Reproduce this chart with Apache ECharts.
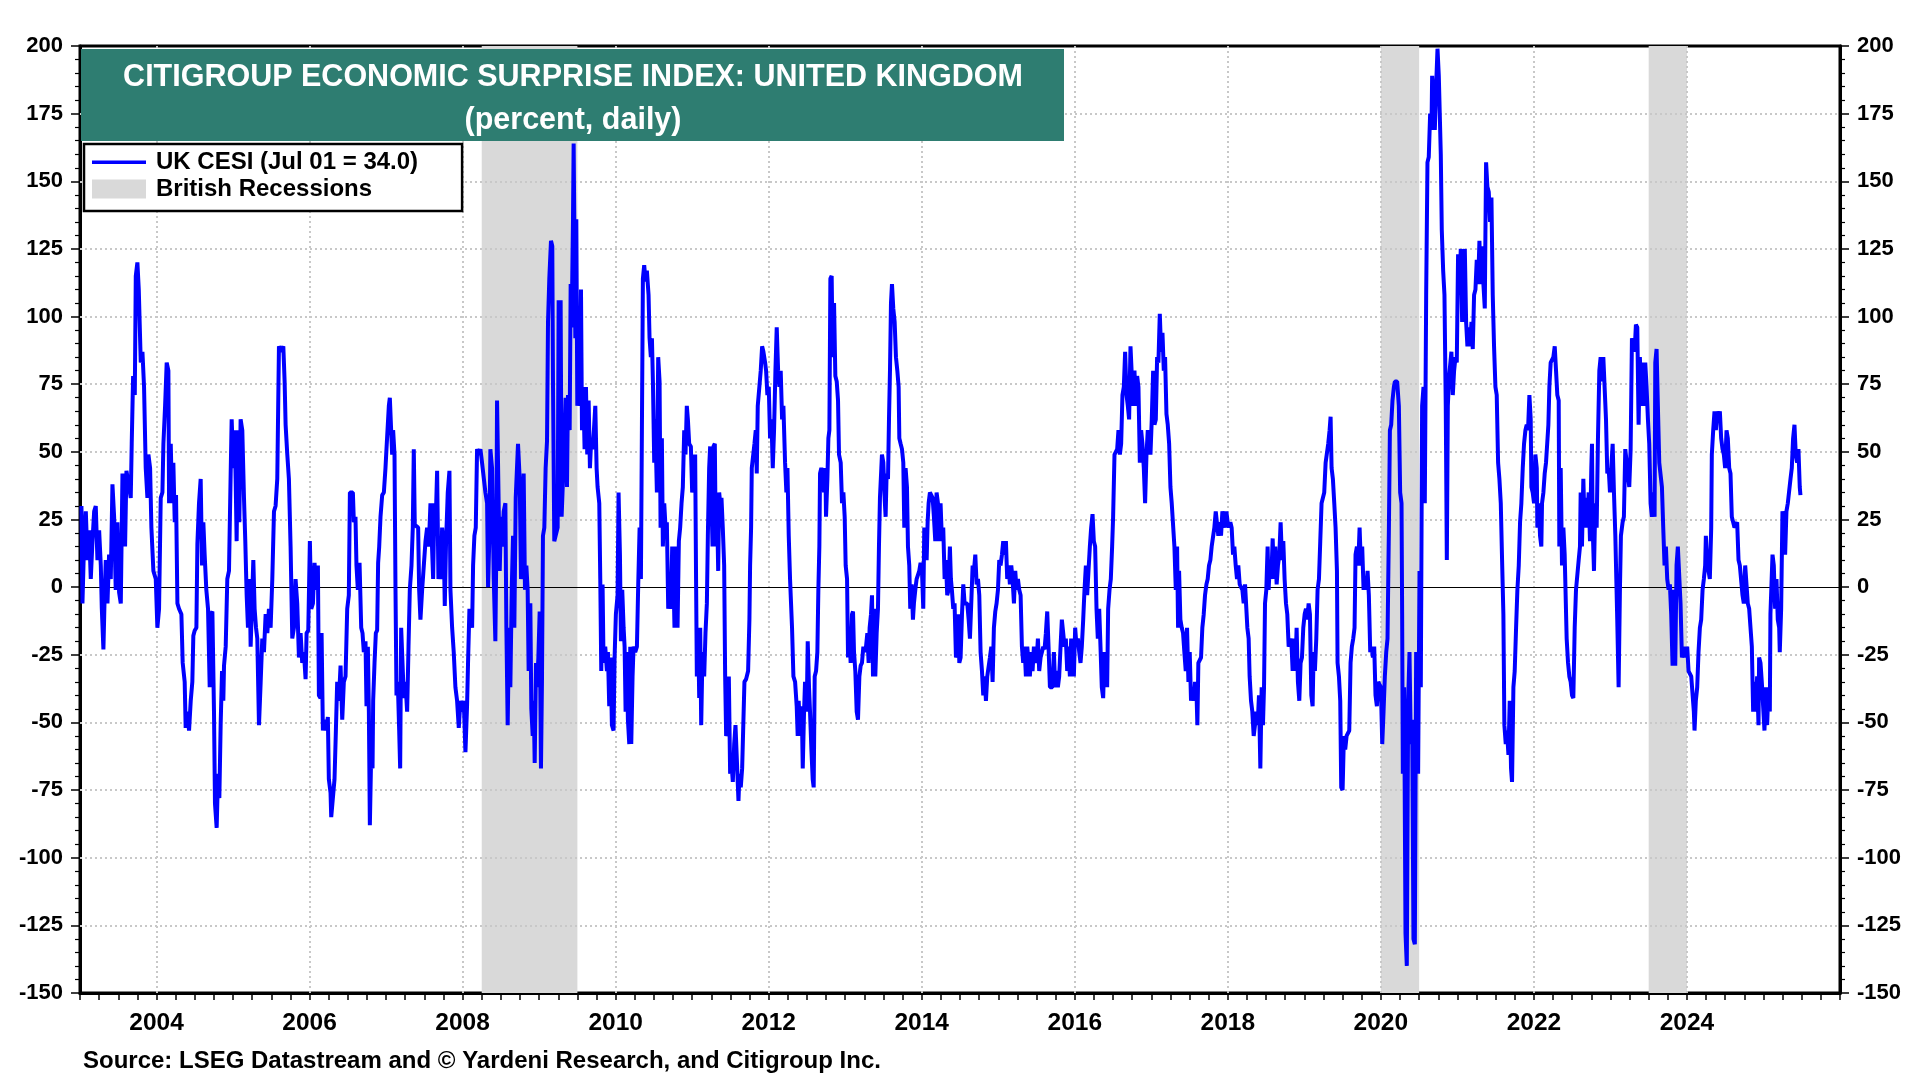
<!DOCTYPE html>
<html><head><meta charset="utf-8">
<script src="https://cdn.jsdelivr.net/npm/echarts@6/dist/echarts.min.js"></script>
<style>html,body{margin:0;padding:0;background:#fff}#chart{width:1920px;height:1080px}</style>
</head><body><div id="chart"></div>
<script>
const titleLine1 = 'CITIGROUP ECONOMIC SURPRISE INDEX: UNITED KINGDOM';
const titleLine2 = '(percent, daily)';
const seriesName = 'UK CESI (Jul 01 = 34.0)';
const recessionName = 'British Recessions';
const sourceText = 'Source: LSEG Datastream and \u00A9 Yardeni Research, and Citigroup Inc.';
const recessions = [[2008.25, 2009.5], [2020.0, 2020.5], [2023.5, 2024.0]];
const xGridYears = [2004, 2006, 2008, 2010, 2012, 2014, 2016, 2018, 2020, 2022, 2024];
const yGridValues = [-125, -100, -75, -50, -25, 25, 50, 75, 100, 125, 150, 175];

const cesi2003_2005 = [[2003.019,30],[2003.032,-6],[2003.054,17],[2003.076,28],[2003.098,10],[2003.119,21],[2003.141,3],[2003.163,17],[2003.185,28],[2003.206,30],[2003.228,10],[2003.250,21],[2003.272,8],[2003.285,-8],[2003.306,-23],[2003.324,-1],[2003.337,10],[2003.359,-6],[2003.380,12],[2003.402,3],[2003.424,38],[2003.446,26],[2003.467,-1],[2003.489,24],[2003.511,-2],[2003.533,-6],[2003.555,42],[2003.576,30],[2003.589,15],[2003.607,43],[2003.642,37],[2003.663,33],[2003.676,53],[2003.694,78],[2003.716,71],[2003.729,115],[2003.750,120],[2003.768,110],[2003.794,83],[2003.816,87],[2003.837,74],[2003.859,44],[2003.881,33],[2003.894,49],[2003.916,44],[2003.933,22],[2003.959,6],[2003.990,3],[2004.011,-15],[2004.033,-8],[2004.055,33],[2004.077,35],[2004.090,53],[2004.112,67],[2004.133,83],[2004.155,80],[2004.164,31],[2004.186,53],[2004.203,31],[2004.220,46],[2004.238,24],[2004.255,34],[2004.273,-6],[2004.294,-8],[2004.325,-10],[2004.342,-28],[2004.368,-35],[2004.381,-52],[2004.403,-46],[2004.425,-53],[2004.447,-42],[2004.468,-35],[2004.481,-18],[2004.499,-16],[2004.521,-15],[2004.534,16],[2004.555,31],[2004.577,40],[2004.595,8],[2004.612,24],[2004.629,12],[2004.651,-1],[2004.673,-8],[2004.695,-37],[2004.708,-10],[2004.730,-9],[2004.751,-46],[2004.764,-80],[2004.786,-89],[2004.804,-69],[2004.821,-78],[2004.838,-51],[2004.856,-31],[2004.873,-42],[2004.882,-29],[2004.904,-22],[2004.925,3],[2004.947,6],[2004.969,42],[2004.982,62],[2005.004,44],[2005.021,58],[2005.034,40],[2005.047,17],[2005.065,58],[2005.082,24],[2005.099,62],[2005.121,58],[2005.143,33],[2005.160,17],[2005.178,-3],[2005.195,-15],[2005.217,3],[2005.230,-22],[2005.243,-10],[2005.265,10],[2005.282,-8],[2005.300,-15],[2005.317,-19],[2005.339,-51],[2005.361,-35],[2005.382,-19],[2005.404,-24],[2005.426,-10],[2005.448,-17],[2005.469,-8],[2005.491,-15],[2005.513,3],[2005.535,28],[2005.556,30],[2005.578,40],[2005.600,89],[2005.630,87],[2005.657,89],[2005.674,76],[2005.687,60],[2005.709,49],[2005.730,40],[2005.752,15],[2005.774,-19],[2005.796,-15],[2005.817,3],[2005.839,-6]];

const cesi2006_2008 = [[2005.861,-26],[2005.883,-17],[2005.904,-28],[2005.926,-24],[2005.948,-34],[2005.961,-17],[2005.983,-16],[2006.004,17],[2006.022,-8],[2006.044,-6],[2006.065,9],[2006.087,-1],[2006.109,8],[2006.122,-40],[2006.144,-41],[2006.157,-17],[2006.174,-53],[2006.196,-49],[2006.218,-53],[2006.239,-48],[2006.252,-71],[2006.274,-76],[2006.283,-85],[2006.309,-85],[2006.326,-71],[2006.344,-53],[2006.361,-35],[2006.383,-42],[2006.405,-29],[2006.427,-49],[2006.448,-35],[2006.470,-33],[2006.492,-8],[2006.513,-3],[2006.527,35],[2006.548,35],[2006.566,35],[2006.579,24],[2006.600,26],[2006.613,8],[2006.631,-1],[2006.653,9],[2006.675,-15],[2006.692,-17],[2006.709,-24],[2006.731,-20],[2006.744,-44],[2006.762,-22],[2006.775,-46],[2006.788,-88],[2006.805,-62],[2006.823,-67],[2006.831,-42],[2006.849,-28],[2006.866,-17],[2006.883,-16],[2006.896,9],[2006.910,15],[2006.927,26],[2006.949,34],[2006.971,35],[2006.992,44],[2007.005,51],[2007.023,51],[2007.036,67],[2007.049,70],[2007.071,70],[2007.079,49],[2007.092,58],[2007.110,49],[2007.123,-1],[2007.136,-40],[2007.153,-35],[2007.171,-53],[2007.184,-67],[2007.197,-15],[2007.219,-15],[2007.232,-41],[2007.253,-35],[2007.275,-46],[2007.293,-22],[2007.310,-1],[2007.332,8],[2007.349,22],[2007.362,51],[2007.375,23],[2007.397,23],[2007.419,22],[2007.432,-1],[2007.449,-12],[2007.471,-1],[2007.493,8],[2007.515,17],[2007.536,22],[2007.558,15],[2007.580,31],[2007.602,31],[2007.615,3],[2007.632,31],[2007.649,25],[2007.667,43],[2007.684,3],[2007.702,8],[2007.719,3],[2007.732,22],[2007.754,15],[2007.767,-7],[2007.784,17],[2007.806,35],[2007.828,43],[2007.841,-1],[2007.863,-15],[2007.884,-24],[2007.906,-37],[2007.928,-42],[2007.950,-52],[2007.971,-42],[2007.993,-46],[2008.015,-42],[2008.037,-61],[2008.058,-44],[2008.071,-28],[2008.089,-8],[2008.102,-8],[2008.124,-15],[2008.137,8],[2008.154,19],[2008.172,22],[2008.189,51],[2008.211,49],[2008.233,51],[2008.254,46],[2008.276,46],[2008.298,35],[2008.320,31],[2008.333,0],[2008.350,19],[2008.363,51],[2008.385,44],[2008.407,3],[2008.428,-20],[2008.441,15],[2008.450,69],[2008.468,69],[2008.485,6],[2008.502,26],[2008.515,15],[2008.537,28],[2008.559,31],[2008.572,-15],[2008.589,-51],[2008.607,-15],[2008.624,-37],[2008.642,-1],[2008.659,19],[2008.676,-15],[2008.694,33]];

const cesi2009_2011 = [[2008.724,53],[2008.746,40],[2008.763,3],[2008.781,10],[2008.798,42],[2008.815,-1],[2008.833,8],[2008.850,-1],[2008.863,-31],[2008.885,-6],[2008.898,-45],[2008.916,-55],[2008.929,-42],[2008.942,-65],[2008.959,-28],[2008.972,-37],[2008.990,-26],[2009.007,-9],[2009.024,-67],[2009.037,-35],[2009.050,19],[2009.068,22],[2009.085,44],[2009.103,54],[2009.116,98],[2009.133,114],[2009.155,128],[2009.172,126],[2009.181,76],[2009.198,17],[2009.220,17],[2009.242,22],[2009.255,106],[2009.268,64],[2009.281,106],[2009.294,26],[2009.312,26],[2009.329,53],[2009.346,70],[2009.364,37],[2009.377,71],[2009.399,58],[2009.412,112],[2009.425,96],[2009.442,135],[2009.451,164],[2009.464,119],[2009.473,92],[2009.486,136],[2009.499,67],[2009.516,92],[2009.529,67],[2009.547,110],[2009.560,58],[2009.577,74],[2009.594,51],[2009.612,74],[2009.629,49],[2009.647,69],[2009.664,44],[2009.681,55],[2009.699,51],[2009.716,58],[2009.734,67],[2009.751,44],[2009.764,37],[2009.786,31],[2009.799,3],[2009.812,-31],[2009.829,1],[2009.842,-28],[2009.864,-22],[2009.886,-31],[2009.899,-24],[2009.916,-44],[2009.934,-26],[2009.951,-51],[2009.973,-53],[2009.986,-26],[2010.003,-10],[2010.025,-3],[2010.038,35],[2010.056,12],[2010.069,-20],[2010.086,-1],[2010.104,-15],[2010.117,-22],[2010.130,-46],[2010.147,-24],[2010.160,-49],[2010.178,-58],[2010.191,-22],[2010.204,-58],[2010.221,-33],[2010.234,-22],[2010.256,-24],[2010.278,-22],[2010.295,1],[2010.313,22],[2010.330,3],[2010.343,58],[2010.356,114],[2010.373,119],[2010.391,113],[2010.408,117],[2010.430,108],[2010.443,92],[2010.460,85],[2010.474,92],[2010.487,76],[2010.504,46],[2010.517,62],[2010.539,35],[2010.556,85],[2010.574,76],[2010.587,22],[2010.604,55],[2010.617,15],[2010.635,31],[2010.652,22],[2010.669,24],[2010.687,-8],[2010.704,3],[2010.722,-8],[2010.739,15],[2010.756,3],[2010.769,-15],[2010.791,15],[2010.809,-15],[2010.826,17],[2010.843,22],[2010.861,31],[2010.878,37],[2010.896,58],[2010.913,49],[2010.930,67],[2010.944,62],[2010.961,53],[2010.983,52],[2011.000,35],[2011.018,40],[2011.039,49],[2011.052,-1],[2011.061,-33],[2011.078,-15],[2011.092,-41],[2011.105,-15],[2011.118,-51],[2011.135,-24],[2011.157,-33],[2011.174,-17],[2011.192,-6],[2011.205,19],[2011.222,44],[2011.235,52],[2011.248,37],[2011.266,15],[2011.279,52],[2011.296,53],[2011.309,15],[2011.322,35],[2011.340,6],[2011.353,35],[2011.366,31],[2011.383,33],[2011.400,22],[2011.418,8],[2011.431,-33],[2011.444,-55],[2011.461,-53],[2011.479,-33],[2011.496,-69],[2011.514,-65],[2011.531,-72],[2011.549,-58],[2011.566,-51]];

const cesi2012_2014 = [[2011.592,-51],[2011.605,-79],[2011.618,-69],[2011.635,-74],[2011.653,-67],[2011.670,-67],[2011.683,-35],[2011.705,-34],[2011.731,-31],[2011.748,-12],[2011.757,8],[2011.770,22],[2011.779,44],[2011.801,44],[2011.814,53],[2011.831,58],[2011.844,42],[2011.857,67],[2011.879,67],[2011.896,80],[2011.914,89],[2011.931,87],[2011.953,83],[2011.966,80],[2011.983,71],[2012.001,74],[2012.018,55],[2012.036,62],[2012.053,44],[2012.070,58],[2012.088,80],[2012.105,96],[2012.123,80],[2012.140,74],[2012.157,80],[2012.175,62],[2012.192,67],[2012.214,46],[2012.231,35],[2012.245,44],[2012.262,19],[2012.279,3],[2012.292,-6],[2012.305,-15],[2012.323,-33],[2012.345,-35],[2012.366,-44],[2012.379,-55],[2012.392,-42],[2012.410,-55],[2012.432,-44],[2012.445,-67],[2012.462,-46],[2012.475,-35],[2012.497,-46],[2012.510,-20],[2012.527,-37],[2012.540,-46],[2012.558,-60],[2012.575,-71],[2012.588,-74],[2012.601,-33],[2012.619,-31],[2012.636,-24],[2012.649,-1],[2012.662,15],[2012.671,42],[2012.688,44],[2012.706,42],[2012.723,35],[2012.741,44],[2012.749,26],[2012.767,40],[2012.780,55],[2012.793,58],[2012.806,114],[2012.823,115],[2012.836,85],[2012.854,105],[2012.871,78],[2012.889,76],[2012.906,69],[2012.919,49],[2012.941,46],[2012.958,31],[2012.976,35],[2012.993,26],[2013.006,8],[2013.024,3],[2013.037,-26],[2013.054,-17],[2013.071,-28],[2013.089,-10],[2013.102,-9],[2013.115,-24],[2013.132,-31],[2013.150,-46],[2013.167,-49],[2013.185,-33],[2013.202,-29],[2013.219,-28],[2013.237,-22],[2013.254,-24],[2013.272,-22],[2013.289,-17],[2013.306,-28],[2013.319,-15],[2013.337,-10],[2013.350,-3],[2013.363,-33],[2013.376,-8],[2013.393,-33],[2013.411,-17],[2013.428,-8],[2013.441,15],[2013.454,33],[2013.472,44],[2013.480,49],[2013.498,46],[2013.515,33],[2013.528,26],[2013.541,42],[2013.559,40],[2013.572,62],[2013.585,80],[2013.598,105],[2013.611,112],[2013.628,103],[2013.646,98],[2013.663,85],[2013.681,80],[2013.698,74],[2013.707,55],[2013.724,53],[2013.742,51],[2013.759,46],[2013.772,22],[2013.789,44],[2013.807,37],[2013.820,15],[2013.837,8],[2013.850,-8],[2013.868,1],[2013.885,-12],[2013.898,-6],[2013.916,-1],[2013.933,3],[2013.950,3],[2013.968,6],[2013.985,9],[2014.003,6],[2014.020,-8],[2014.033,22],[2014.046,17],[2014.064,10],[2014.077,24],[2014.090,31],[2014.107,35],[2014.125,35],[2014.142,33],[2014.159,26],[2014.177,17],[2014.194,35],[2014.212,31],[2014.229,17],[2014.246,31],[2014.264,17],[2014.281,22],[2014.299,3],[2014.316,10],[2014.333,-3],[2014.351,-1],[2014.368,15],[2014.381,3],[2014.394,-1],[2014.412,-8],[2014.429,-6],[2014.447,-26]];

const cesi2015_2017 = [[2014.465,-24],[2014.478,-10],[2014.491,-28],[2014.508,-26],[2014.526,-10],[2014.543,1],[2014.560,-6],[2014.578,-6],[2014.595,-6],[2014.613,-12],[2014.630,-19],[2014.647,-6],[2014.665,8],[2014.682,6],[2014.700,12],[2014.717,1],[2014.735,3],[2014.752,-3],[2014.769,-24],[2014.787,-31],[2014.804,-40],[2014.822,-33],[2014.839,-42],[2014.856,-33],[2014.874,-33],[2014.891,-26],[2014.909,-22],[2014.926,-35],[2014.943,-15],[2014.961,-9],[2014.978,-6],[2014.996,-1],[2015.013,10],[2015.030,8],[2015.048,12],[2015.065,17],[2015.083,12],[2015.100,17],[2015.117,3],[2015.135,8],[2015.152,1],[2015.170,8],[2015.187,3],[2015.205,-6],[2015.222,6],[2015.239,-1],[2015.257,3],[2015.274,-1],[2015.292,-3],[2015.309,-22],[2015.326,-28],[2015.344,-22],[2015.361,-33],[2015.379,-22],[2015.396,-28],[2015.413,-33],[2015.431,-24],[2015.448,-31],[2015.466,-22],[2015.483,-24],[2015.500,-28],[2015.518,-19],[2015.535,-31],[2015.553,-26],[2015.570,-26],[2015.588,-22],[2015.605,-23],[2015.622,-17],[2015.640,-9],[2015.657,-22],[2015.675,-37],[2015.692,-37],[2015.709,-37],[2015.727,-24],[2015.744,-37],[2015.762,-31],[2015.779,-37],[2015.796,-33],[2015.814,-22],[2015.831,-12],[2015.849,-17],[2015.866,-22],[2015.883,-19],[2015.901,-31],[2015.918,-22],[2015.936,-33],[2015.953,-19],[2015.970,-26],[2015.988,-33],[2016.005,-15],[2016.023,-22],[2016.040,-19],[2016.058,-24],[2016.075,-28],[2016.092,-22],[2016.110,-12],[2016.127,-1],[2016.145,8],[2016.162,-3],[2016.179,6],[2016.197,15],[2016.214,22],[2016.232,27],[2016.249,17],[2016.266,15],[2016.284,-8],[2016.301,-19],[2016.319,-8],[2016.336,-22],[2016.353,-37],[2016.371,-41],[2016.388,-24],[2016.406,-28],[2016.423,-37],[2016.436,-8],[2016.454,-1],[2016.471,3],[2016.488,15],[2016.501,26],[2016.519,49],[2016.536,49],[2016.554,51],[2016.571,58],[2016.589,49],[2016.606,53],[2016.623,71],[2016.641,74],[2016.658,87],[2016.676,71],[2016.693,67],[2016.710,62],[2016.728,89],[2016.745,89],[2016.763,67],[2016.780,80],[2016.797,67],[2016.815,78],[2016.832,74],[2016.850,46],[2016.867,58],[2016.884,53],[2016.902,44],[2016.919,31],[2016.937,49],[2016.954,58],[2016.972,58],[2016.989,49],[2017.006,62],[2017.024,80],[2017.041,60],[2017.059,62],[2017.076,85],[2017.093,83],[2017.111,101],[2017.128,87],[2017.146,94],[2017.163,80],[2017.180,85],[2017.198,64],[2017.215,60],[2017.233,53],[2017.250,37],[2017.267,31],[2017.285,31],[2017.302,15],[2017.320,-1]];

const cesi2018_2020 = [[2017.337,15],[2017.350,-15],[2017.363,6],[2017.380,-12],[2017.398,-15],[2017.415,-17],[2017.432,-24],[2017.450,-31],[2017.467,-15],[2017.485,-35],[2017.502,-24],[2017.519,-42],[2017.537,-37],[2017.554,-42],[2017.572,-35],[2017.589,-37],[2017.602,-51],[2017.615,-28],[2017.633,-28],[2017.650,-26],[2017.667,-15],[2017.685,-10],[2017.702,-3],[2017.720,1],[2017.737,3],[2017.754,8],[2017.772,10],[2017.789,15],[2017.807,15],[2017.824,22],[2017.842,28],[2017.859,28],[2017.876,19],[2017.894,24],[2017.911,19],[2017.929,28],[2017.946,28],[2017.963,22],[2017.981,28],[2017.998,24],[2018.016,22],[2018.033,24],[2018.050,22],[2018.068,12],[2018.085,15],[2018.103,8],[2018.120,3],[2018.137,8],[2018.155,1],[2018.172,1],[2018.190,-1],[2018.207,-6],[2018.225,1],[2018.242,1],[2018.255,-15],[2018.272,-19],[2018.285,-33],[2018.303,-42],[2018.320,-46],[2018.338,-55],[2018.355,-51],[2018.372,-46],[2018.390,-51],[2018.407,-40],[2018.425,-67],[2018.442,-37],[2018.459,-51],[2018.473,-37],[2018.486,-6],[2018.503,-1],[2018.520,15],[2018.533,-1],[2018.551,10],[2018.568,3],[2018.586,18],[2018.603,3],[2018.620,15],[2018.638,1],[2018.655,8],[2018.673,12],[2018.690,24],[2018.708,10],[2018.725,17],[2018.742,3],[2018.760,-6],[2018.777,-10],[2018.795,-22],[2018.812,-22],[2018.829,-19],[2018.847,-31],[2018.864,-19],[2018.882,-31],[2018.899,-15],[2018.916,-35],[2018.934,-42],[2018.951,-28],[2018.969,-26],[2018.986,-15],[2019.004,-10],[2019.021,-8],[2019.038,-12],[2019.056,-6],[2019.073,-10],[2019.091,-40],[2019.108,-44],[2019.121,-24],[2019.138,-31],[2019.156,-19],[2019.173,-1],[2019.191,3],[2019.208,17],[2019.225,31],[2019.243,31],[2019.260,35],[2019.278,46],[2019.295,46],[2019.312,53],[2019.330,58],[2019.343,63],[2019.356,44],[2019.373,40],[2019.391,31],[2019.408,22],[2019.426,6],[2019.434,-28],[2019.452,-33],[2019.469,-42],[2019.482,-74],[2019.500,-75],[2019.517,-55],[2019.534,-60],[2019.552,-55],[2019.569,-55],[2019.587,-53],[2019.604,-28],[2019.621,-22],[2019.639,-19],[2019.656,-15],[2019.669,12],[2019.687,15],[2019.704,8],[2019.722,22],[2019.739,8],[2019.756,15],[2019.774,-1],[2019.791,3],[2019.809,-1],[2019.826,6],[2019.843,-3],[2019.861,-24],[2019.878,-22],[2019.896,-26],[2019.913,-22],[2019.930,-40],[2019.948,-44],[2019.965,-35],[2019.983,-35],[2020.000,-37],[2020.018,-58],[2020.035,-46],[2020.052,-33],[2020.070,-24],[2020.087,-19],[2020.105,22],[2020.118,58],[2020.135,60],[2020.152,69],[2020.170,74],[2020.183,76]];

const cesi2021_2023 = [[2020.213,76],[2020.235,67],[2020.252,35],[2020.270,31],[2020.278,-10],[2020.287,-69],[2020.304,-37],[2020.322,-128],[2020.339,-140],[2020.357,-42],[2020.374,-24],[2020.391,-58],[2020.409,-49],[2020.426,-130],[2020.444,-132],[2020.461,-24],[2020.474,-24],[2020.487,-69],[2020.505,6],[2020.522,-37],[2020.539,67],[2020.557,74],[2020.574,31],[2020.592,108],[2020.609,157],[2020.626,159],[2020.644,175],[2020.661,169],[2020.670,189],[2020.687,180],[2020.705,169],[2020.722,185],[2020.740,199],[2020.757,189],[2020.774,189],[2020.783,160],[2020.796,132],[2020.814,117],[2020.831,108],[2020.848,67],[2020.862,10],[2020.875,67],[2020.892,78],[2020.909,78],[2020.922,87],[2020.940,71],[2020.957,80],[2020.975,85],[2020.992,83],[2021.009,123],[2021.027,108],[2021.044,125],[2021.062,98],[2021.079,110],[2021.097,125],[2021.114,98],[2021.131,89],[2021.149,96],[2021.166,89],[2021.184,98],[2021.201,88],[2021.218,108],[2021.236,110],[2021.253,121],[2021.271,112],[2021.288,128],[2021.305,112],[2021.323,126],[2021.340,112],[2021.358,103],[2021.366,130],[2021.375,157],[2021.392,148],[2021.410,146],[2021.427,135],[2021.445,144],[2021.462,108],[2021.479,89],[2021.497,74],[2021.514,71],[2021.532,46],[2021.549,40],[2021.567,31],[2021.584,10],[2021.601,-10],[2021.614,-51],[2021.632,-58],[2021.649,-53],[2021.667,-62],[2021.684,-42],[2021.701,-67],[2021.714,-72],[2021.732,-37],[2021.749,-31],[2021.767,-15],[2021.784,-1],[2021.802,8],[2021.819,24],[2021.836,31],[2021.854,44],[2021.871,53],[2021.889,58],[2021.906,60],[2021.923,58],[2021.941,71],[2021.958,62],[2021.967,37],[2021.984,35],[2022.002,31],[2022.019,49],[2022.037,44],[2022.045,22],[2022.063,31],[2022.080,19],[2022.097,15],[2022.106,31],[2022.124,35],[2022.141,42],[2022.158,46],[2022.176,46],[2022.189,60],[2022.202,74],[2022.219,83],[2022.237,83],[2022.254,85],[2022.272,89],[2022.289,80],[2022.306,71],[2022.324,69],[2022.332,15],[2022.350,44],[2022.367,8],[2022.385,22],[2022.402,12],[2022.420,12],[2022.428,-19],[2022.446,-28],[2022.463,-33],[2022.480,-35],[2022.498,-40],[2022.515,-41],[2022.533,-15],[2022.550,-1],[2022.567,-1],[2022.585,10],[2022.602,15],[2022.611,35],[2022.628,15],[2022.646,40],[2022.663,22],[2022.681,33],[2022.698,22],[2022.715,35],[2022.733,17],[2022.750,44],[2022.759,53],[2022.768,22],[2022.785,6],[2022.802,31],[2022.820,22],[2022.837,55],[2022.855,80],[2022.872,85],[2022.890,76],[2022.907,85],[2022.924,85],[2022.942,62],[2022.959,42],[2022.977,44],[2022.994,35],[2023.011,44],[2023.029,53],[2023.046,35],[2023.064,19]];

const cesi2024_2025 = [[2023.089,-12],[2023.107,-37],[2023.124,-1],[2023.137,19],[2023.159,24],[2023.176,26],[2023.194,51],[2023.220,51],[2023.246,37],[2023.264,51],[2023.281,92],[2023.298,92],[2023.316,87],[2023.333,97],[2023.351,96],[2023.368,60],[2023.385,85],[2023.403,67],[2023.420,83],[2023.438,67],[2023.455,83],[2023.472,74],[2023.490,62],[2023.507,53],[2023.525,31],[2023.542,26],[2023.559,35],[2023.577,26],[2023.586,83],[2023.603,88],[2023.620,67],[2023.638,46],[2023.655,46],[2023.673,37],[2023.690,22],[2023.707,8],[2023.725,15],[2023.742,3],[2023.760,-1],[2023.777,1],[2023.794,-10],[2023.812,-29],[2023.829,-1],[2023.847,-29],[2023.864,8],[2023.881,15],[2023.899,15],[2023.916,-6],[2023.934,-26],[2023.951,-26],[2023.969,-22],[2023.986,-26],[2024.003,-22],[2024.021,-31],[2024.038,-31],[2024.056,-33],[2024.073,-33],[2024.090,-46],[2024.099,-53],[2024.116,-42],[2024.134,-37],[2024.151,-24],[2024.169,-15],[2024.186,-12],[2024.204,-1],[2024.221,3],[2024.238,8],[2024.247,19],[2024.264,10],[2024.282,6],[2024.299,3],[2024.317,22],[2024.325,49],[2024.343,58],[2024.360,65],[2024.378,58],[2024.395,65],[2024.412,62],[2024.430,65],[2024.447,55],[2024.465,51],[2024.482,49],[2024.499,44],[2024.517,58],[2024.534,55],[2024.552,44],[2024.569,42],[2024.586,26],[2024.604,24],[2024.621,22],[2024.639,22],[2024.656,24],[2024.674,10],[2024.691,8],[2024.708,8],[2024.726,-3],[2024.743,-6],[2024.761,8],[2024.778,1],[2024.795,-6],[2024.813,-8],[2024.830,-8],[2024.848,-22],[2024.865,-46],[2024.882,-35],[2024.900,-46],[2024.917,-33],[2024.935,-51],[2024.943,-26],[2024.961,-28],[2024.978,-35],[2024.995,-35],[2025.013,-53],[2025.030,-37],[2025.048,-51],[2025.065,-37],[2025.083,-46],[2025.091,-10],[2025.109,-10],[2025.118,12],[2025.135,8],[2025.152,-8],[2025.170,3],[2025.187,-12],[2025.205,-15],[2025.213,-24],[2025.231,-8],[2025.248,28],[2025.265,26],[2025.283,12],[2025.300,28],[2025.318,31],[2025.335,31],[2025.353,40],[2025.370,44],[2025.387,55],[2025.405,60],[2025.422,49],[2025.440,46],[2025.457,51],[2025.474,37],[2025.483,34]];

const FONT = '"Liberation Sans", Arial, Helvetica, sans-serif';
const cesiData = [].concat(cesi2003_2005, cesi2006_2008, cesi2009_2011, cesi2012_2014, cesi2015_2017, cesi2018_2020, cesi2021_2023, cesi2024_2025);

const chart = echarts.init(document.getElementById('chart'), null, {renderer: 'canvas', width: 1920, height: 1080});

function yAxisDef(pos) {
  return {
    type: 'value', position: pos, min: -150, max: 200, interval: 25,
    axisLine: {show: true, onZero: false, lineStyle: {color: '#000', width: 3}},
    axisTick: {show: true, length: 9, lineStyle: {color: '#000', width: 1.5}},
    minorTick: {show: true, splitNumber: 5, length: 5, lineStyle: {color: '#000', width: 1.2}},
    axisLabel: {show: true, fontSize: 22, fontWeight: 'bold', color: '#000', fontFamily: FONT, margin: 17},
    splitLine: {show: false}, minorSplitLine: {show: false}
  };
}

const option = {
  animation: false,
  backgroundColor: '#fff',
  textStyle: {fontFamily: FONT},
  grid: {left: 80, right: 80, top: 46, bottom: 87, show: true, borderColor: '#000', borderWidth: 3, backgroundColor: 'transparent', containLabel: false},
  xAxis: {
    type: 'value', min: 2003, max: 2026, interval: 1,
    axisLine: {show: true, onZero: false, lineStyle: {color: '#000', width: 3}},
    axisTick: {show: true, length: 7, lineStyle: {color: '#000', width: 1.5}},
    minorTick: {show: true, splitNumber: 4, length: 7, lineStyle: {color: '#000', width: 1.5}},
    axisLabel: {
      formatter: function (v) { return (v % 2 === 0 && v < 2026) ? String(v) : ''; },
      fontSize: 24.5, fontWeight: 'bold', color: '#000', fontFamily: FONT, margin: 18,
      showMinLabel: true, showMaxLabel: false
    },
    splitLine: {show: false}, minorSplitLine: {show: false}
  },
  yAxis: [yAxisDef('left'), yAxisDef('right')],
  legend: {
    left: 84, top: 144, orient: 'vertical', z: 20,
    backgroundColor: '#fff', borderColor: '#000', borderWidth: 2.5,
    padding: [6, 44, 10, 8], itemGap: 3, itemWidth: 59, itemHeight: 21,
    textStyle: {fontSize: 24, fontWeight: 'bold', color: '#000', fontFamily: FONT},
    selectedMode: false,
    data: [
      {name: seriesName, icon: 'path://M0,0 M0,9 L54,9 L54,12.5 L0,12.5 Z M59,21'},
      {name: recessionName, icon: 'path://M0,1 L54,1 L54,20 L0,20 Z M59,21 M0,0'}
    ]
  },
  graphic: [
    {type: 'rect', left: 81, top: 49, z: 100, shape: {width: 983, height: 92}, style: {fill: '#2e7d71'}},
    {type: 'text', x: 573, y: 78, z: 101, style: {text: titleLine1, fill: '#fff', font: 'bold 30.5px ' + FONT, textAlign: 'center', textVerticalAlign: 'middle'}},
    {type: 'text', x: 573, y: 120.5, z: 101, style: {text: titleLine2, fill: '#fff', font: 'bold 30.5px ' + FONT, textAlign: 'center', textVerticalAlign: 'middle'}},
    {type: 'text', x: 83, y: 1061.5, z: 101, style: {text: sourceText, fill: '#000', font: 'bold 24px ' + FONT, textAlign: 'left', textVerticalAlign: 'middle'}}
  ],
  series: [
    {
      name: recessionName, type: 'line', data: [], z: 1, silent: true,
      itemStyle: {color: '#d9d9d9'}, lineStyle: {color: '#d9d9d9'},
      markArea: {silent: true, z: 1, itemStyle: {color: '#d9d9d9'}, label: {show: false},
        data: recessions.map(function (r) { return [{xAxis: r[0]}, {xAxis: r[1]}]; })}
    },
    {
      name: 'grid', type: 'line', data: [], z: 2, silent: true,
      markLine: {silent: true, z: 2, symbol: 'none', label: {show: false}, animation: false,
        lineStyle: {color: '#c8c8c8', type: [2, 3], width: 2},
        data: xGridYears.map(function (x) { return {xAxis: x}; })
          .concat(yGridValues.map(function (y) { return {yAxis: y}; }))
          .concat([{yAxis: 0, lineStyle: {color: '#000', type: 'solid', width: 1}}])}
    },
    {
      name: seriesName, type: 'line', data: cesiData, z: 10,
      showSymbol: false, symbol: 'none', clip: true,
      lineStyle: {color: '#0000ff', width: 4}, itemStyle: {color: '#0000ff'}
    }
  ]
};
chart.setOption(option);
</script>
</body></html>
